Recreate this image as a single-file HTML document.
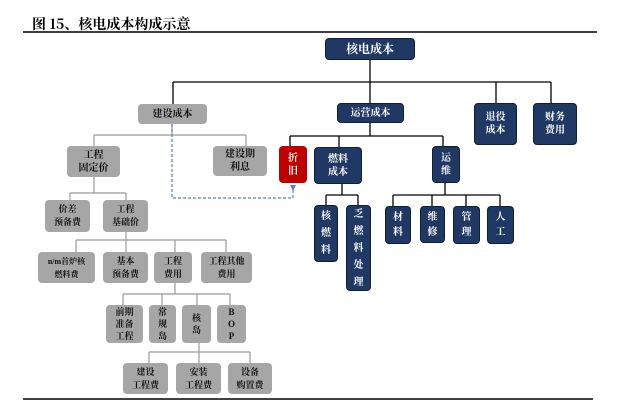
<!DOCTYPE html>
<html><head><meta charset="utf-8"><style>
body{margin:0;width:640px;height:403px;background:#fff;position:relative;overflow:hidden;font-family:"Liberation Serif","Noto Serif CJK SC","Noto Sans CJK SC",serif;}
.b{position:absolute;display:flex;align-items:center;justify-content:center;text-align:center;font-weight:bold;font-size:10px;line-height:13px;border-radius:4px;box-sizing:border-box;}
.n{background:#1f3864;color:#fff;border:1px solid #0f1f3a;}
.g{background:#a6a6a6;color:#111;}
.r{background:#c00000;color:#fff;}
.v{writing-mode:vertical-rl;letter-spacing:3px;}
svg{position:absolute;left:0;top:0;}
</style></head><body>
<div style="position:absolute;left:32px;top:14px;font-size:14px;font-weight:bold;font-family:'Noto Serif CJK SC','Noto Sans CJK SC',serif;">图 15、核电成本构成示意</div>
<svg width="640" height="403">
<line x1="23" y1="32" x2="597" y2="32" stroke="#000" stroke-width="1.5"/>
<line x1="23" y1="399" x2="593" y2="399" stroke="#000" stroke-width="1.5"/>
<g stroke="#000" stroke-width="1.3" fill="none">
<path d="M370 60V82M173 82H551M173 82V104M370 82V103M496 82V103M551 82V103"/>
<path d="M370 123V136M290 136H443M290 136V146M339 136V147M443 136V146"/>
<path d="M342 184V195M326 195H358M326 195V205M358 195V205"/>
<path d="M445 183V195M393 195H500M393 195V206M432 195V206M466 195V206M500 195V206"/>
</g>
<g stroke="#999" stroke-width="1.2" fill="none">
<path d="M172 124V135M94 135H246M94 135V146M246 135V146"/>
<path d="M94 177V193M70 193H126M70 193V200M126 193V200"/>
<path d="M126 232V240M76 240H226M76 240V252M126 240V252M175 240V252M226 240V252"/>
<path d="M175 283V294M123 294H230M123 294V305M162 294V305M197 294V305M230 294V305"/>
<path d="M199 343V352M149 352H250M149 352V363M199 352V363M250 352V363"/>
</g>
<path d="M172 124V198H293V188" stroke="#5a7fb5" stroke-width="1.2" stroke-dasharray="3,2" fill="none"/>
<path d="M290 185L293 191L296 185Z" fill="#5a7fb5"/>
</svg>
<div class="b n" style="left:325px;top:38px;width:90px;height:22px;font-size:12px">核电成本</div>
<div class="b g" style="left:138px;top:104px;width:69px;height:20px">建设成本</div>
<div class="b n" style="left:337px;top:103px;width:67px;height:20px">运营成本</div>
<div class="b n" style="left:474px;top:103px;width:43px;height:42px">退役<br>成本</div>
<div class="b n" style="left:533px;top:103px;width:44px;height:42px">财务<br>费用</div>
<div class="b g" style="left:67px;top:146px;width:53px;height:31px">工程<br>固定价</div>
<div class="b g" style="left:213px;top:146px;width:54px;height:30px">建设期<br>利息</div>
<div class="b r" style="left:279px;top:146px;width:28px;height:37px">折<br>旧</div>
<div class="b n" style="left:314px;top:147px;width:48px;height:37px">燃料<br>成本</div>
<div class="b n" style="left:432px;top:146px;width:28px;height:37px">运<br>维</div>
<div class="b n" style="left:314px;top:205px;width:24px;height:57px;line-height:17px">核<br>燃<br>料</div>
<div class="b n" style="left:346px;top:205px;width:25px;height:86px;line-height:17px">乏<br>燃<br>料<br>处<br>理</div>
<div class="b n" style="left:385px;top:206px;width:26px;height:38px;line-height:15px">材<br>料</div>
<div class="b n" style="left:420px;top:206px;width:25px;height:37px;line-height:15px">维<br>修</div>
<div class="b n" style="left:453px;top:206px;width:27px;height:38px;line-height:15px">管<br>理</div>
<div class="b n" style="left:487px;top:206px;width:27px;height:38px;line-height:15px">人<br>工</div>
<div class="b g" style="left:45px;top:200px;width:45px;height:32px;font-size:9px">价差<br>预备费</div>
<div class="b g" style="left:103px;top:200px;width:45px;height:32px;font-size:9px">工程<br>基础价</div>
<div class="b g" style="left:38px;top:252px;width:57px;height:31px;font-size:8px">n/m首炉核<br>燃料费</div>
<div class="b g" style="left:103px;top:252px;width:45px;height:31px;font-size:9px">基本<br>预备费</div>
<div class="b g" style="left:154px;top:252px;width:38px;height:31px;font-size:9px">工程<br>费用</div>
<div class="b g" style="left:201px;top:252px;width:51px;height:31px;font-size:9px">工程其他<br>费用</div>
<div class="b g" style="left:106px;top:305px;width:37px;height:38px;font-size:9px;line-height:12px">前期<br>准备<br>工程</div>
<div class="b g" style="left:149px;top:305px;width:27px;height:38px;font-size:9px;line-height:12px">常<br>规<br>岛</div>
<div class="b g" style="left:182px;top:305px;width:29px;height:38px;font-size:9px;line-height:12px">核<br>岛</div>
<div class="b g" style="left:217px;top:305px;width:29px;height:38px;font-size:9px;line-height:12px">B<br>O<br>P</div>
<div class="b g" style="left:123px;top:363px;width:45px;height:31px;font-size:9px">建设<br>工程费</div>
<div class="b g" style="left:176px;top:363px;width:45px;height:31px;font-size:9px">安装<br>工程费</div>
<div class="b g" style="left:228px;top:363px;width:44px;height:31px;font-size:9px">设备<br>购置费</div>
</body></html>
